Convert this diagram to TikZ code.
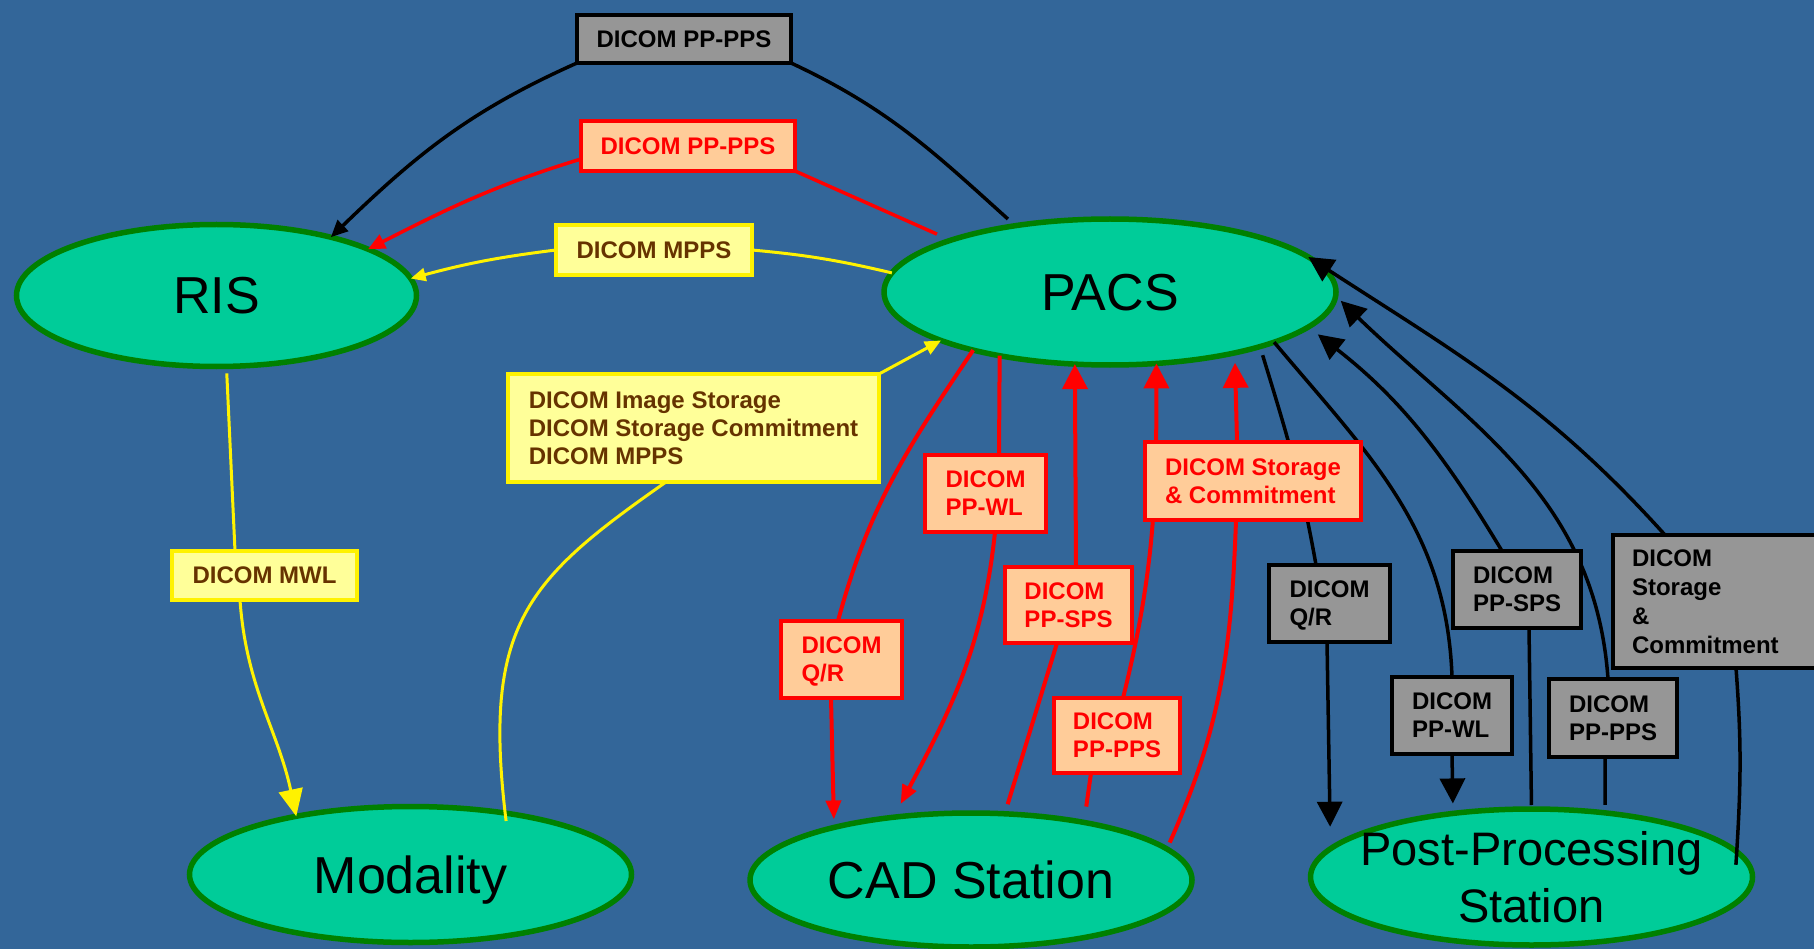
\documentclass[tikz,border=0pt]{standalone}
\usepackage{fontspec}
\setmainfont{Liberation Sans}
\usetikzlibrary{shapes.geometric,arrows.meta}
\pgfdeclarelayer{back}
\pgfdeclarelayer{ell}
\pgfdeclarelayer{lines}
\pgfsetlayers{back,ell,lines,main}
\definecolor{bgblue}{RGB}{51,102,153}
\definecolor{ellfill}{RGB}{0,204,153}
\definecolor{ellgreen}{RGB}{0,128,0}
\definecolor{boxgray}{RGB}{150,150,150}
\definecolor{peach}{RGB}{255,204,153}
\definecolor{lightyel}{RGB}{255,255,153}
\definecolor{brownt}{RGB}{102,51,0}
\newcommand{\boxfont}{\fontsize{24}{28}\selectfont\bfseries}
\begin{document}
\begin{tikzpicture}[x=1pt,y=-1pt,
  boxbase/.style={rectangle, line width=4pt, inner sep=0pt, outer sep=0pt, align=left, font=\boxfont},
  box/.style={boxbase, text depth=0pt},
  graybox/.style={box, draw=black, fill=boxgray, text=black},
  redbox/.style={box, draw=red, fill=peach, text=red},
  yelbox/.style={box, draw=yellow, fill=lightyel, text=brownt},
  ell/.style={ellipse, draw=ellgreen, fill=ellfill, line width=5.5pt, inner sep=0pt, outer sep=0pt, font=\fontsize{52}{57}\selectfont, text depth=0pt},
  blkline/.style={draw=black, line width=3.5pt},
  redline/.style={draw=red, line width=4pt},
  yelline/.style={draw=yellow, line width=3pt},
  tipsmall/.style={-{Triangle[length=17pt,width=15pt]}},
  tipbig/.style={-{Triangle[length=25pt,width=25pt]}},
  tipmid/.style={-{Triangle[length=19pt,width=15pt]}}
]
\useasboundingbox (0,0) rectangle (1814,949);
\begin{pgfonlayer}{back}
\fill[bgblue] (0,0) rectangle (1814,949);
\end{pgfonlayer}

% label boxes
\node[graybox, minimum width=214pt, minimum height=48pt] (b1) at (684,39) {DICOM PP-PPS};
\node[redbox, minimum width=214pt, minimum height=50pt] (b2) at (688,146) {DICOM PP-PPS};
\node[yelbox, minimum width=196pt, minimum height=50pt] (b3) at (654,250) {DICOM MPPS};
\node[yelbox, minimum width=371pt, minimum height=108pt] (b4) at (693.5,428) {DICOM Image Storage\\DICOM Storage Commitment\\DICOM MPPS};
\node[yelbox, minimum width=185pt, minimum height=49pt] (b5) at (264.5,575.5) {DICOM MWL};
\node[redbox, minimum width=121pt, minimum height=77pt] (b6) at (985.5,493.5) {DICOM\\PP-WL};
\node[redbox, minimum width=121pt, minimum height=77pt] (b7) at (841.5,659.5) {DICOM\\Q/R};
\node[redbox, minimum width=127pt, minimum height=76pt] (b8) at (1068.5,605) {DICOM\\PP-SPS};
\node[redbox, minimum width=126pt, minimum height=75pt] (b9) at (1117,735.5) {DICOM\\PP-PPS};
\node[redbox, minimum width=216pt, minimum height=78pt] (b10) at (1253,481) {DICOM Storage\\\& Commitment};
\node[graybox, minimum width=121pt, minimum height=77pt] (b11) at (1329.5,603.5) {DICOM\\Q/R};
\node[graybox, minimum width=128pt, minimum height=77pt] (b12) at (1517,589.5) {DICOM\\PP-SPS};
\node[graybox, minimum width=120pt, minimum height=77pt] (b13) at (1452,715.5) {DICOM\\PP-WL};
\node[graybox, minimum width=128pt, minimum height=78pt] (b14) at (1613,718) {DICOM\\PP-PPS};
\node[boxbase, draw=black, fill=boxgray, text=black, font=\fontsize{24}{29}\selectfont\bfseries, text width=177pt, inner xsep=19pt, minimum height=133pt] (b15) at (1720.5,601.5) {DICOM\\Storage\\\&\\Commitment};

% systems
\begin{pgfonlayer}{ell}
\node[ell, minimum width=400pt, minimum height=142pt] (ris) at (216.5,295.5) {RIS};
\node[ell, minimum width=452pt, minimum height=146pt] (pacs) at (1110,292) {PACS};
\node[ell, minimum width=442pt, minimum height=136pt] (mod) at (410.5,874.5) {Modality};
\node[ell, minimum width=442pt, minimum height=134pt] (cad) at (971,880) {CAD Station};
\node[ell, minimum width=442pt, minimum height=136pt, inner xsep=-20pt, align=center, font=\fontsize{47}{57}\selectfont] (pp) at (1531.5,877) {Post-Processing\\Station};
\end{pgfonlayer}

% connectors
\begin{pgfonlayer}{lines}
% top black PP-PPS
\draw[blkline, shorten >=10pt] (b1.south east) to[out=-25,in=138] (pacs.145);
\draw[blkline, tipsmall] (b1.south west) to[out=204,in=44] (ris.27);
% red PP-PPS
\draw[redline, line width=3.5pt, shorten >=15pt] (b2.south east) -- (pacs.162.5);
\draw[redline, line width=3.5pt, tipsmall] ([yshift=-13pt]b2.west) to[out=197,in=27] (ris.17.7);
% yellow MPPS
\draw[yelline] (pacs.175.3) to[bend right=4] (b3.east);
\draw[yelline, -{Triangle[length=15pt,width=13pt]}] (b3.west) to[bend right=4] (ris.5.5);
% yellow image storage
\draw[yelline, -{Triangle[length=16pt,width=14pt]}] (b4.north east) -- (pacs.196.5);
\draw[yelline, shorten >=-8pt] ([xshift=-27.5pt]b4.south) to[out=215,in=97,out distance=170pt,in distance=190pt] (mod.33.4);
% yellow MWL
\draw[yelline, shorten <=7pt] (ris.278.3) -- ([xshift=-29.5pt]b5.north);
\draw[yelline, -{Triangle[length=27pt,width=24pt]}] ([xshift=-24.5pt]b5.south) to[out=-86,in=102] (mod.153.7);
% red Q/R
\draw[redline] (pacs.203) to[out=236,in=75] ([xshift=-3.5pt]b7.north);
\draw[redline, tipmid, shorten >=8pt] ([xshift=-10.5pt]b7.south) -- (cad.159.3);
% red PP-WL
\draw[redline] (pacs.210.3) -- ([xshift=13.5pt]b6.north);
\draw[redline, tipmid, shorten >=15pt] ([xshift=9.5pt]b6.south) to[out=264,in=62] (cad.141.6);
% red PP-SPS
\draw[redline, shorten <=10pt] (cad.63.2) -- ([xshift=-11.5pt]b8.south);
\draw[redline, tipbig] ([xshift=7.5pt]b8.north) -- (pacs.244.8);
% red PP-PPS
\draw[redline, shorten <=16pt] (cad.27.4) -- ([xshift=-26pt]b9.south);
\draw[redline, tipbig] ([xshift=6pt]b9.north) to[out=76,in=-90] (pacs.303.3);
% red storage
\draw[redline, shorten <=7pt] (cad.9.7) to[out=66,in=-92] ([xshift=-17pt]b10.south);
\draw[redline, tipbig, shorten >=10pt] ([xshift=-16pt]b10.north) -- (pacs.334.7);
% black Q/R
\draw[blkline, shorten <=9pt] (pacs.340.4) to[out=-73,in=100] ([xshift=-13.5pt]b11.north);
\draw[blkline, tipbig, shorten >=22pt] ([xshift=-2.5pt]b11.south) -- (pp.172.35);
% black PP-WL
\draw[blkline] (pacs.343.1) to[out=-50,in=92] (b13.north);
\draw[blkline, tipbig, shorten >=10pt] (b13.south) -- (pp.141.4);
% black PP-SPS
\draw[blkline, shorten <=4pt] (pp.90) -- ([xshift=12pt]b12.south);
\draw[blkline, tipbig, shorten >=12pt] ([xshift=-15pt]b12.north) to[out=121,in=-38] (pacs.350.8);
% black PP-PPS
\draw[blkline, shorten <=8pt] (pp.41.1) -- ([xshift=-8pt]b14.south);
\draw[blkline, tipbig, shorten >=7pt] ([xshift=-5pt]b14.north) to[out=94,in=-44] (pacs.359.3);
% black storage
\draw[blkline, shorten <=-13pt] (pp.7.65) to[bend right=4] ([xshift=15.5pt]b15.south);
\draw[blkline, tipbig] ([xshift=-55.5pt]b15.north) to[out=132,in=-33] (pacs.10);
\end{pgfonlayer}
\end{tikzpicture}
\end{document}
